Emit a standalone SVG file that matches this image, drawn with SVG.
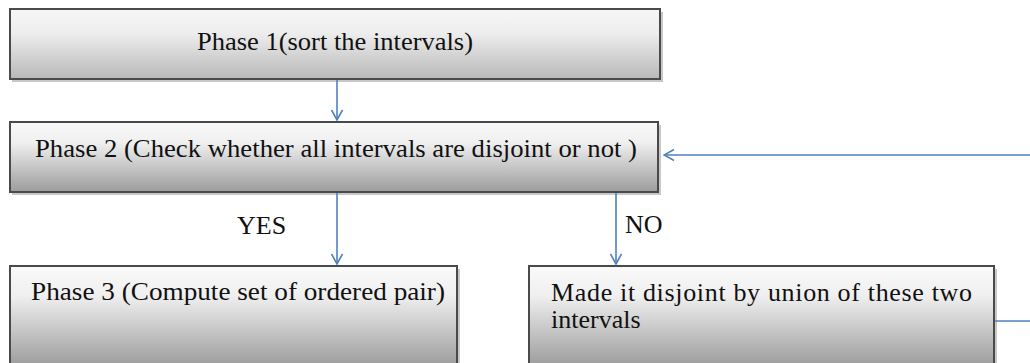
<svg xmlns="http://www.w3.org/2000/svg" width="1030" height="363" viewBox="0 0 1030 363">
<style>
.box{stroke:#4a4a4a;stroke-width:2}
.sh{fill:#c8c8c8}
.t{font-family:"Liberation Serif","Times New Roman",serif;font-size:26px;fill:#111}
.c{fill:none;stroke:#4f81bd;stroke-width:1.6}
</style>
<defs>
<linearGradient id="g1" x1="0" y1="0" x2="0" y2="1">
<stop offset="0" stop-color="#f7f7f7"/><stop offset="0.35" stop-color="#ededed"/><stop offset="1" stop-color="#b8b8b8"/>
</linearGradient>
<linearGradient id="g2" x1="0" y1="0" x2="0" y2="1">
<stop offset="0" stop-color="#fafafa"/><stop offset="0.3" stop-color="#efefef"/><stop offset="1" stop-color="#9c9c9c"/>
</linearGradient>
<marker id="ah" viewBox="0 0 12 12" refX="11" refY="6" markerWidth="12" markerHeight="12" markerUnits="userSpaceOnUse" orient="auto">
<path d="M1,0.5 L11,6 L1,11.5" fill="none" stroke="#4f81bd" stroke-width="1.6"/>
</marker>
</defs>
<g id="node-phase1">
<rect class="sh" x="12" y="12" width="651" height="70"/>
<rect class="box" x="10" y="9" width="650" height="70" fill="url(#g1)"/>
<text class="t" x="197" y="50" textLength="276" lengthAdjust="spacingAndGlyphs">Phase 1(sort the intervals)</text>
</g>
<g id="node-phase2">
<rect class="sh" x="12" y="125" width="649" height="70"/>
<rect class="box" x="10" y="122" width="648" height="70" fill="url(#g2)"/>
<text class="t" x="35" y="157" textLength="602" lengthAdjust="spacingAndGlyphs">Phase 2 (Check whether all intervals are disjoint or not )</text>
</g>
<g id="node-phase3">
<rect class="sh" x="12" y="269" width="448" height="100"/>
<rect class="box" x="10" y="266" width="447" height="100" fill="url(#g2)"/>
<text class="t" x="31" y="300" textLength="414" lengthAdjust="spacingAndGlyphs">Phase 3 (Compute set of ordered pair)</text>
</g>
<g id="node-union">
<rect class="sh" x="531" y="269" width="466" height="100"/>
<rect class="box" x="529" y="266" width="465" height="100" fill="url(#g2)"/>
<text class="t" x="551" y="301" textLength="421" lengthAdjust="spacing">Made it disjoint by union of these two</text>
<text class="t" x="551" y="328">intervals</text>
</g>
<g id="connectors">
<line class="c" x1="337" y1="80" x2="337" y2="120" marker-end="url(#ah)"/>
<line class="c" x1="337" y1="193" x2="337" y2="264" marker-end="url(#ah)"/>
<line class="c" x1="616" y1="193" x2="616" y2="264" marker-end="url(#ah)"/>
<line class="c" x1="995" y1="321" x2="1030" y2="321"/>
<line class="c" x1="1030" y1="155" x2="664" y2="155" marker-end="url(#ah)"/>
<text class="t" x="237" y="234">YES</text>
<text class="t" x="625" y="233">NO</text>
</g>
</svg>
